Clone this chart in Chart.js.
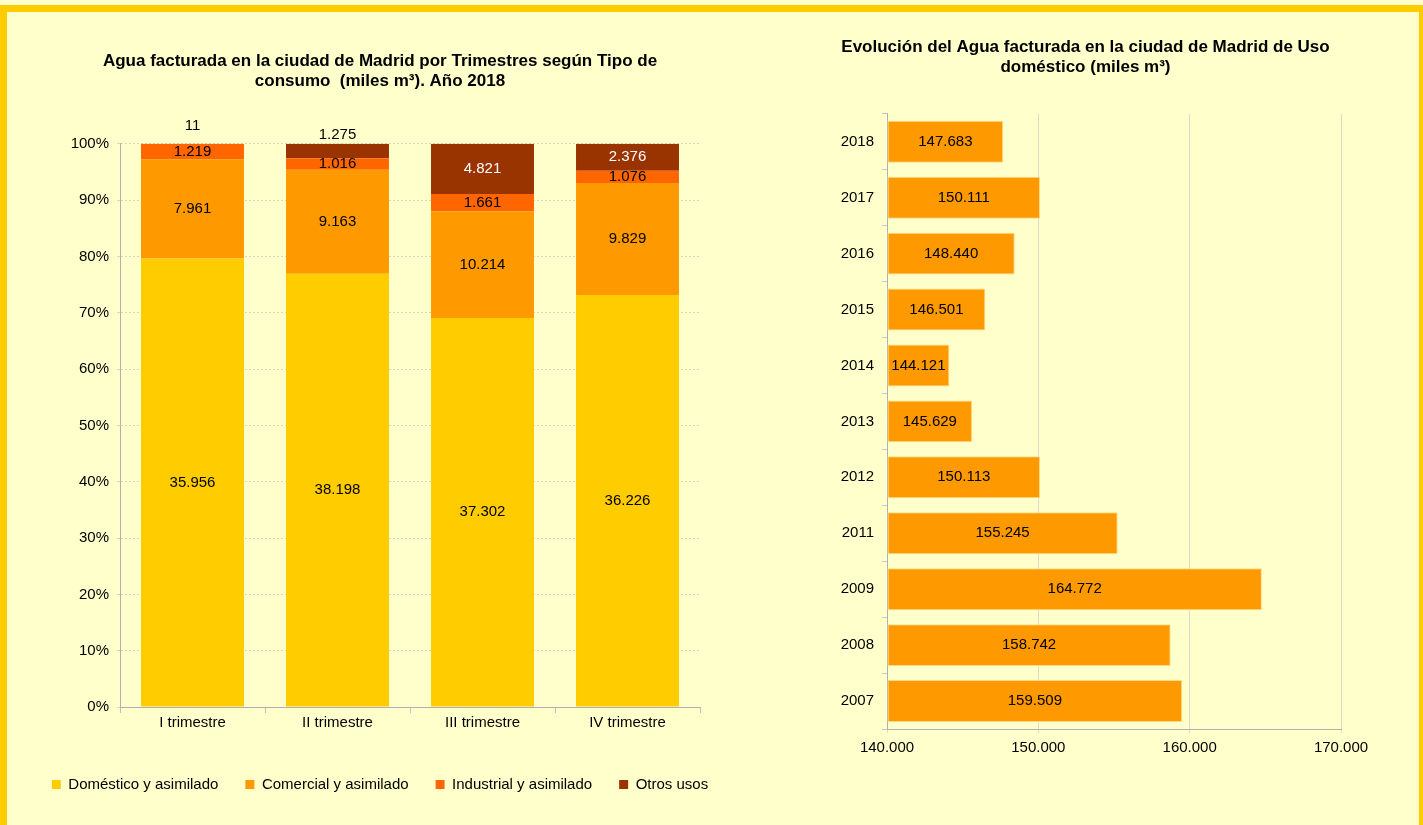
<!DOCTYPE html>
<html>
<head>
<meta charset="utf-8">
<script src="https://cdn.jsdelivr.net/npm/chart.js@4.4.1/dist/chart.umd.min.js"></script>
<style>
  html, body { margin: 0; padding: 0; background: #FFFFCC; overflow: hidden; }
  body { width: 1423px; height: 825px; position: relative; }
  #frame { position: absolute; left: 0; top: 5px; width: 1412px; height: 900px; border: 7px solid #FFCC00; }
  #left { position: absolute; left: 0px; top: 10px; width: 760px; height: 805px; }
  #right { position: absolute; left: 830px; top: 10px; width: 585px; height: 805px; }
</style>
</head>
<body>
<div id="frame"></div>
<canvas id="left" width="760" height="805"></canvas>
<canvas id="right" width="585" height="805"></canvas>
<script>
// ---------- Data ----------
const quarters = ['I trimestre', 'II trimestre', 'III trimestre', 'IV trimestre'];
const domestico = [35956, 38198, 37302, 36226];
const comercial = [7961, 9163, 10214, 9829];
const industrial = [1219, 1016, 1661, 1076];
const otros = [11, 1275, 4821, 2376];
const seriesNames = ['Doméstico y asimilado', 'Comercial y asimilado', 'Industrial y asimilado', 'Otros usos'];

const years = ['2018', '2017', '2016', '2015', '2014', '2013', '2012', '2011', '2009', '2008', '2007'];
const domesticoAnual = [147683, 150111, 148440, 146501, 144121, 145629, 150113, 155245, 164772, 158742, 159509];

// ---------- Helpers ----------
const FONT = "'Liberation Sans', Arial, sans-serif";
function fmt(n) {
  return String(Math.round(n)).replace(/\B(?=(\d{3})+(?!\d))/g, '.');
}
const rawSeries = [domestico, comercial, industrial, otros];
const totals = quarters.map((_, i) => rawSeries.reduce((s, a) => s + a[i], 0));
const pct = arr => arr.map((v, i) => v / totals[i] * 100);

// label plugin
const valueLabels = {
  id: 'valueLabels',
  afterDatasetsDraw(chart, args, opts) {
    const ctx = chart.ctx;
    ctx.save();
    ctx.font = '15px ' + FONT;
    ctx.textAlign = 'center';
    ctx.textBaseline = 'middle';
    chart.data.datasets.forEach((ds, di) => {
      const meta = chart.getDatasetMeta(di);
      if (meta.hidden) return;
      meta.data.forEach((el, i) => {
        const raw = ds.raw ? ds.raw[i] : ds.data[i];
        const p = el.getProps(['x', 'y', 'base', 'width', 'height'], true);
        let x, y, color = (ds.labelColor || '#000');
        if (chart.options.indexAxis === 'y') {
          x = (p.x + p.base) / 2; y = p.y;
        } else {
          x = p.x;
          const h = Math.abs(p.base - p.y);
          y = (p.y + p.base) / 2;
          if (ds.outsideBelow && h < ds.outsideBelow) {
            const off = (ds.outsideOffsets && ds.outsideOffsets[i]) || 12;
            y = Math.min(p.y, p.base) - off;
            color = '#000';
          }
        }
        ctx.fillStyle = color;
        ctx.fillText(fmt(raw), x, y);
      });
    });
    ctx.restore();
  }
};

Chart.defaults.font.family = FONT;
Chart.defaults.font.size = 15;
Chart.defaults.color = '#000';

// ---------- Left chart ----------
const colors = ['#FFCC00', '#FF9900', '#FF6600', '#993300'];
new Chart(document.getElementById('left'), {
  type: 'bar',
  data: {
    labels: quarters,
    datasets: rawSeries.map((arr, k) => ({
      label: seriesNames[k],
      data: pct(arr),
      raw: arr,
      backgroundColor: colors[k],
      borderWidth: 0,
      barPercentage: 0.71,
      categoryPercentage: 1,
      labelColor: k === 3 ? '#FFFFFF' : '#000000',
      outsideBelow: k === 3 ? 16 : 0,
      outsideOffsets: k === 3 ? [18, 9, 9, 9] : null
    }))
  },
  options: {
    responsive: false,
    animation: false,
    layout: { padding: { top: 0, right: 0, bottom: 13, left: 0 } },
    plugins: {
      title: {
        display: true,
        text: ['Agua facturada en la ciudad de Madrid por Trimestres según Tipo de', 'consumo  (miles m³). Año 2018'],
        font: { size: 17, weight: 'bold', family: FONT },
        color: '#000',
        lineHeight: 1.18,
        padding: { top: 41, bottom: 52 }
      },
      legend: {
        position: 'bottom',
        labels: { boxWidth: 9, boxHeight: 9, padding: 27, font: { size: 15 }, color: '#000' }
      },
      tooltip: { enabled: false },
      valueLabels: {}
    },
    scales: {
      x: {
        stacked: true,
        afterFit(s) { s.height = 43; },
        grid: { display: true, offset: true, drawOnChartArea: false, tickLength: 6, color: '#BFBFBF' },
        border: { color: '#B0B0B0' },
        ticks: { padding: 1, color: '#000' }
      },
      y: {
        stacked: true,
        min: 0, max: 100,
        afterFit(s) { s.width = 120; },
        ticks: { stepSize: 10, callback: v => v + '%', color: '#000', padding: 8 },
        grid: { color: '#D5D5C0', tickLength: 3, drawTicks: true },
        border: { color: '#B0B0B0', dash: [2, 2] }
      },
      pad: {
        type: 'linear',
        position: 'right',
        display: true,
        afterFit(s) { s.width = 60; },
        ticks: { display: false },
        grid: { display: false, drawTicks: false },
        border: { display: false }
      }
    }
  },
  plugins: [valueLabels]
});

// ---------- Right chart ----------
new Chart(document.getElementById('right'), {
  type: 'bar',
  data: {
    labels: years,
    datasets: [{
      label: 'Doméstico',
      data: domesticoAnual,
      backgroundColor: '#FF9900',
      borderColor: '#FFD98A',
      borderWidth: 1,
      borderSkipped: false,
      barPercentage: 0.75,
      categoryPercentage: 1,
      base: 140000
    }]
  },
  options: {
    indexAxis: 'y',
    responsive: false,
    animation: false,
    layout: { padding: { top: 0, right: 74, bottom: 52, left: 0 } },
    plugins: {
      title: {
        display: true,
        text: ['Evolución del Agua facturada en la ciudad de Madrid de Uso', 'doméstico (miles m³)'],
        font: { size: 17, weight: 'bold', family: FONT },
        color: '#000',
        lineHeight: 1.18,
        padding: { top: 27, bottom: 36 }
      },
      legend: { display: false },
      tooltip: { enabled: false },
      valueLabels: {}
    },
    scales: {
      x: {
        min: 140000, max: 170000,
        ticks: { stepSize: 10000, callback: v => fmt(v), color: '#000', padding: 6 },
        grid: { color: '#DCDCC8', tickLength: 4 },
        border: { color: '#B0B0B0' }
      },
      y: {
        afterFit(s) { s.width = 57; },
        ticks: { color: '#000', padding: 8 },
        grid: { offset: true, drawOnChartArea: false, tickLength: 5, color: '#C8C8C8' },
        border: { color: '#B0B0B0' }
      }
    }
  },
  plugins: [valueLabels]
});
</script>
</body>
</html>
